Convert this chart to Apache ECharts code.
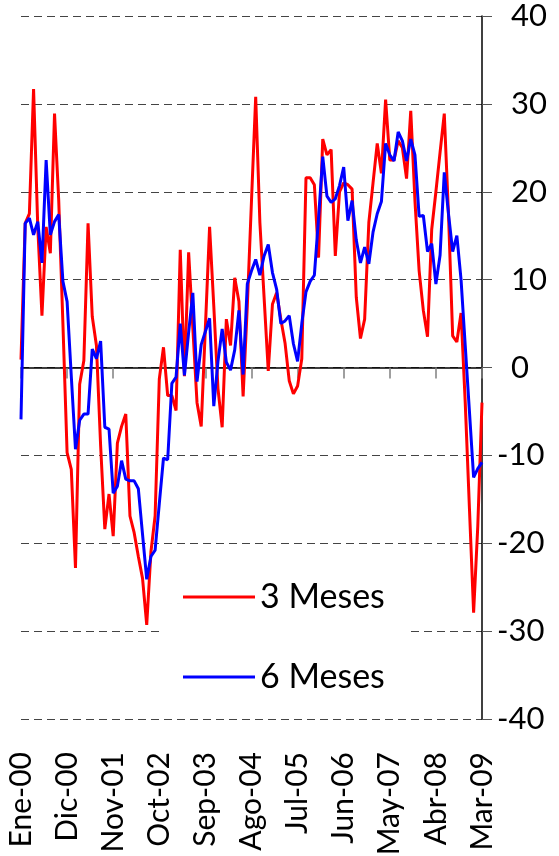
<!DOCTYPE html>
<html>
<head>
<meta charset="utf-8">
<script src="https://cdn.jsdelivr.net/npm/echarts@6/dist/echarts.min.js"></script>
<style>
  html, body { margin: 0; padding: 0; background: #fff; }
  #chart { width: 559px; height: 856px; }
</style>
</head>
<body>
<div id="chart"></div>
<script>
// monthly labels, Ene-00 .. Mar-09
const monthNames = ["Ene", "Feb", "Mar", "Abr", "May", "Jun", "Jul", "Ago", "Sep", "Oct", "Nov", "Dic"]
const firstYear = 2000
const monthCount = 111

const threeMonths = [
  0.9, 16.4, 17.5, 31.7, 16, 5.9, 16, 13, 28.9, 19,
  5, -9.7, -11.6, -22.8, -1.9, 0.8, 16.4, 5.8, 2.5, -8.9,
  -18.4, -14.4, -19.2, -8.6, -6.7, -5.3, -16.9, -18.8, -21.5, -24,
  -29.3, -21, -16.9, -1.3, 2.3, -3.2, -3.2, -4.9, 13.4, -1,
  13.1, 4.5, -4, -6.7, 4.6, 16, 7, -2.4, -6.8, 5.5,
  2.5, 10.2, 7.5, -3.3, 7, 19, 30.8, 16.5, 8, -0.4,
  7.2, 8.5, 5.5, 2.8, -1.5, -3, -2.1, 1, 21.6, 21.6,
  20.8, 12.5, 26, 24.2, 24.8, 12.7, 20, 21, 20.8, 20.3,
  8, 3.3, 5.5, 16.5, 21, 25.5, 22.1, 30.5, 23.6, 23.6,
  25.8, 25, 21.5, 29.2, 19, 11, 6.5, 3.5, 15.7, 20,
  24.5, 28.9, 17.5, 3.6, 2.9, 6.2, -4, -16, -27.9, -18,
  -4
]

const sixMonths = [
  -5.9, 16.4, 17, 15.1, 16.6, 11.9, 23.6, 15.1, 16.6, 17.4,
  9.8, 7.5, -1, -9.3, -6, -5.3, -5.3, 2.1, 1, 3,
  -6.8, -7, -14.3, -13.5, -10.6, -12.7, -12.9, -12.9, -13.8, -19,
  -24.1, -21.5, -20.8, -15.5, -10.3, -10.5, -1.8, -1.1, 5, -0.9,
  4, 8.5, -1.6, 2.6, 4.1, 5.6, -4.4, 0.7, 4.4, 0.6,
  -0.3, 2, 6.5, -0.8, 9.5, 11, 12.3, 10.5, 12.7, 14,
  10.8, 8.9, 5, 5.3, 5.9, 2.7, 0.7, 5, 8.6, 9.8,
  10.5, 17, 24, 19.5, 18.8, 19.2, 20.7, 22.8, 16.7, 19,
  14.5, 11.9, 13.7, 11.8, 15.4, 17.5, 18.9, 25.5, 24.2, 23.5,
  26.8, 25.8, 23.5, 26, 24.2, 17.2, 17.3, 13.2, 14.1, 9.5,
  12.8, 22.2, 17.5, 13.2, 15, 10, 2.5, -5, -12.5, -11.5,
  -10.8
]

const seriesNames = ["3 Meses", "6 Meses"]
const yTicks = { min: -40, max: 40, step: 10 }

const categories = []
for (let i = 0; i < monthCount; i++) {
  const yy = String((firstYear + Math.floor(i / 12)) % 100).padStart(2, "0")
  categories.push(monthNames[i % 12] + "-" + yy)
}

const font = "Lato, 'DejaVu Sans', sans-serif"

const chart = echarts.init(document.getElementById("chart"), null, { renderer: "canvas" })

chart.setOption({
  animation: false,
  backgroundColor: "#fff",
  grid: { left: 21, right: 77, top: 16, bottom: 137, containLabel: false, outerBoundsMode: "none" },
  legend: {
    data: seriesNames,
    orient: "vertical",
    left: 162,
    top: 565,
    padding: [12, 22, 12, 21],
    backgroundColor: "#fff",
    icon: "rect",
    itemWidth: 72,
    itemHeight: 3,
    itemGap: 40,
    textStyle: { fontFamily: font, fontSize: 34, color: "#000", lineHeight: 40 }
  },
  xAxis: [
    {
      // the zero line with its ticks
      type: "category",
      data: categories,
      boundaryGap: false,
      axisLine: { onZero: true, lineStyle: { color: "#000", width: 1.5 } },
      axisTick: { interval: 10, length: 11, lineStyle: { color: "#808080", width: 1.5 } },
      axisLabel: { show: false },
      splitLine: { show: false }
    },
    {
      // the month labels under the plot
      type: "category",
      data: categories,
      position: "bottom",
      boundaryGap: false,
      axisLine: { show: false, onZero: false },
      axisTick: { show: false },
      axisLabel: {
        interval: 10,
        rotate: 90,
        margin: 33,
        fontFamily: font,
        fontSize: 30,
        color: "#000",
        hideOverlap: false
      },
      splitLine: { show: false }
    }
  ],
  yAxis: {
    type: "value",
    position: "right",
    min: yTicks.min,
    max: yTicks.max,
    interval: yTicks.step,
    axisLine: { show: true, lineStyle: { color: "#000", width: 1.5 } },
    axisTick: { show: true, length: 10, lineStyle: { color: "#555", width: 1 } },
    axisLabel: {
      margin: 15,
      align: "left",
      formatter: v => (v < 0 ? "{n|" + v + "}" : "{p|" + v + "}"),
      rich: {
        n: { fontFamily: font, fontSize: 31, color: "#000" },
        p: { fontFamily: font, fontSize: 31, color: "#000", padding: [0, 0, 0, 14] }
      }
    },
    splitLine: { show: true, lineStyle: { color: "#444", width: 1, type: [8, 5] } }
  },
  series: [
    {
      name: seriesNames[0],
      type: "line",
      data: threeMonths,
      showSymbol: false,
      itemStyle: { color: "#ff0000" },
      lineStyle: { color: "#ff0000", width: 3 }
    },
    {
      name: seriesNames[1],
      type: "line",
      data: sixMonths,
      showSymbol: false,
      itemStyle: { color: "#0000ff" },
      lineStyle: { color: "#0000ff", width: 3 }
    }
  ]
})
</script>
</body>
</html>
